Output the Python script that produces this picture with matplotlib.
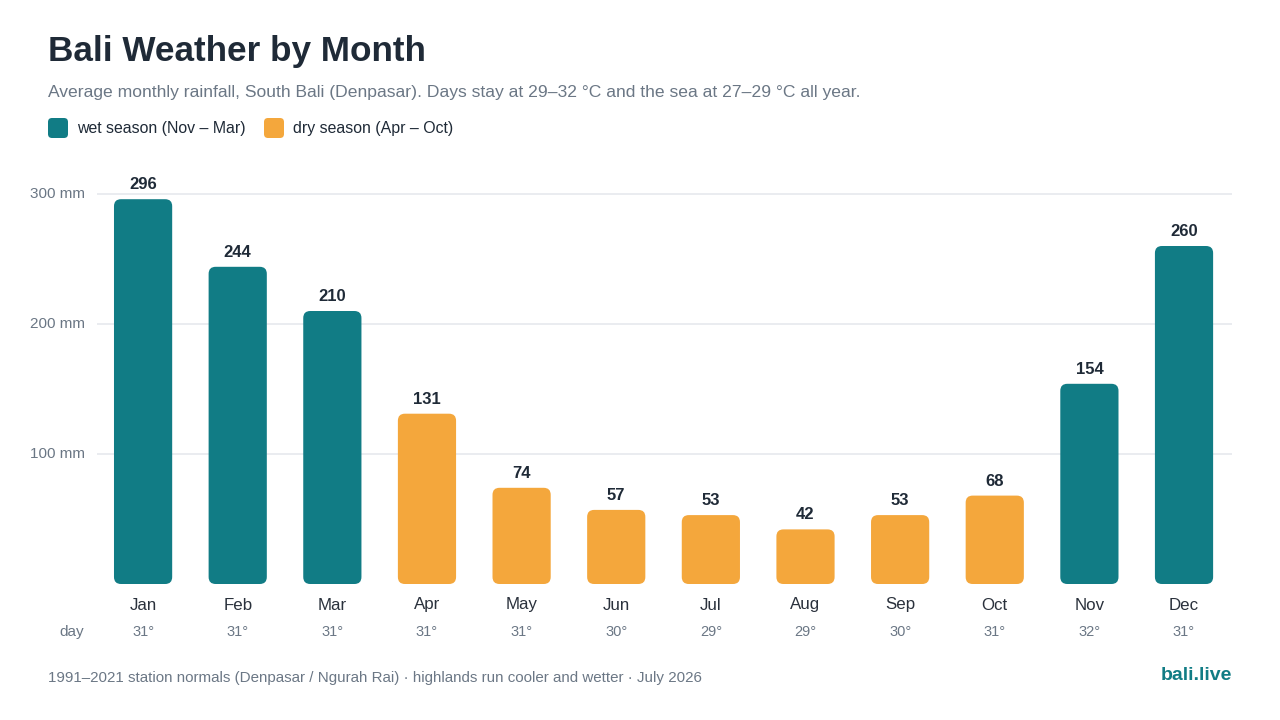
import matplotlib
matplotlib.use("Agg")
import matplotlib.pyplot as plt
from matplotlib.patches import FancyBboxPatch

plt.rcParams['font.family'] = ['Liberation Sans', 'DejaVu Sans']

months = ["Jan", "Feb", "Mar", "Apr", "May", "Jun", "Jul", "Aug", "Sep", "Oct", "Nov", "Dec"]
rainfall = [296, 244, 210, 131, 74, 57, 53, 42, 53, 68, 154, 260]
day_temps = [31, 31, 31, 31, 31, 30, 29, 29, 30, 31, 32, 31]
season = ["wet", "wet", "wet", "dry", "dry", "dry", "dry", "dry", "dry", "dry", "wet", "wet"]
yticks = [100, 200, 300]

TEAL = "#117C85"
ORANGE = "#F4A73C"
DARK = "#1F2A37"
GRAY = "#6B7785"
colors = {"wet": TEAL, "dry": ORANGE}

W, H = 1280, 720
fig = plt.figure(figsize=(12.8, 7.2), dpi=100)
fig.patch.set_facecolor("white")

ax_left, ax_right = 97 / W, 1232 / W
ax_bottom, ax_top = 1 - 584 / H, 1 - 170 / H
ax = fig.add_axes([ax_left, ax_bottom, ax_right - ax_left, ax_top - ax_bottom])
xmin, xmax = -0.487, 11.507
ymax = (584 - 170) / 130 * 100
ax.set_xlim(xmin, xmax)
ax.set_ylim(0, ymax)
for s in ax.spines.values():
    s.set_visible(False)
ax.set_xticks([])
ax.set_yticks([])
for y in yticks:
    ax.axhline(y, color="#E6E9ED", lw=1.2, zorder=0)
    ax.text(-12 / (1232 - 97), y, f"{y} mm", transform=ax.get_yaxis_transform(), ha="right",
            va="center", fontsize=11, color=GRAY)

# pixel scale
px_per_x = (1232 - 97) / (xmax - xmin)
px_per_y = 414 / ymax
radius_px = 7
rx = radius_px / px_per_x
aspect = (radius_px / px_per_y) / rx
bw = 0.615
for i, (v, s) in enumerate(zip(rainfall, season)):
    p = FancyBboxPatch((i - bw / 2, 0), bw, v,
                       boxstyle=f"round,pad=0,rounding_size={rx}",
                       mutation_aspect=aspect, facecolor=colors[s], edgecolor="none", zorder=2)
    ax.add_patch(p)
    ax.annotate(str(v), (i, v), xytext=(0, 5), textcoords="offset points", ha="center",
                va="bottom", fontsize=12, fontweight="bold", color=DARK)
    ax.text(i, -(605 - 584) / px_per_y, months[i], ha="center", va="center", fontsize=12.2,
            color="#2A313C", clip_on=False)
    ax.text(i, -(632 - 584) / px_per_y, f"{day_temps[i]}°", ha="center", va="center",
            fontsize=10.5, color=GRAY, clip_on=False)

fig.text(72 / W, 1 - 632 / H, "day", ha="center", va="center", fontsize=11, color=GRAY)

# Title & subtitle
fig.text(48 / W, 1 - 52 / H, "Bali Weather by Month", ha="left", va="center", fontsize=25.3,
         fontweight="bold", color=DARK)
fig.text(48 / W, 1 - 92 / H,
         "Average monthly rainfall, South Bali (Denpasar). Days stay at 29–32 °C and the sea at 27–29 °C all year.",
         ha="left", va="center", fontsize=12.6, color=GRAY)

# Legend
for x0, col, label in [(48, TEAL, "wet season (Nov – Mar)"), (264, ORANGE, "dry season (Apr – Oct)")]:
    sq = FancyBboxPatch((x0 / W, 1 - 138 / H), 20 / W, 20 / H,
                        boxstyle=f"round,pad=0,rounding_size={4 / W}",
                        mutation_aspect=(W / H), transform=fig.transFigure,
                        facecolor=col, edgecolor="none")
    fig.patches.append(sq)
    fig.text((x0 + 29) / W, 1 - 128 / H, label, ha="left", va="center", fontsize=11.4, color=DARK)

# Footer
fig.text(48 / W, 1 - 678 / H,
         "1991–2021 station normals (Denpasar / Ngurah Rai) · highlands run cooler and wetter · July 2026",
         ha="left", va="center", fontsize=10.9, color=GRAY)
fig.text(1232 / W, 1 - 676 / H, "bali.live", ha="right", va="center", fontsize=14,
         fontweight="bold", color=TEAL)

fig.savefig("out.png", dpi=100, facecolor="white")
